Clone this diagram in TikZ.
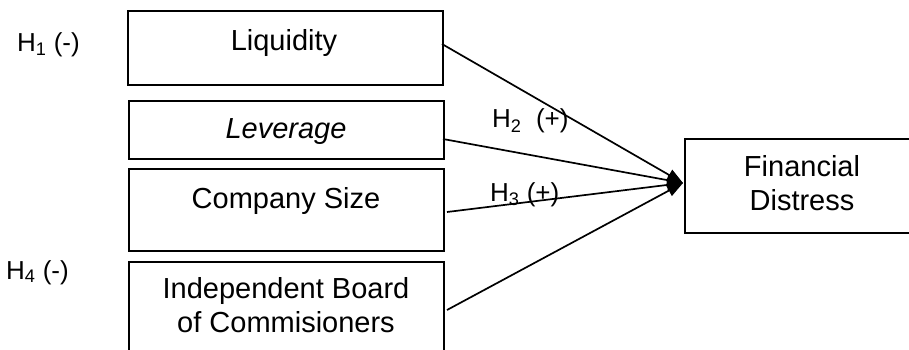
\documentclass[tikz,border=0pt]{standalone}
\usepackage{fontspec}
\setmainfont{Liberation Sans}
\usetikzlibrary{arrows.meta}
\begin{document}
\begin{tikzpicture}[x=1pt,y=-1pt,
  font=\fontsize{26}{33}\selectfont,
  varbox/.style={draw, line width=1.8pt, inner sep=0pt, anchor=north west, minimum width=315pt},
  lbl/.style={anchor=base, inner sep=0pt, align=center, font=\fontsize{29}{34}\selectfont},
  hlbl/.style={anchor=base west, inner sep=0pt},
  link/.style={line width=1.7pt, -{Triangle[length=16pt,width=12pt]}}]
\useasboundingbox (0,0) rectangle (909,350);
\clip (0,0) rectangle (909,350);
\node[varbox, minimum height=74pt] (liq) at (127,10) {};
\node[varbox, minimum height=58pt] (lev) at (128,100) {};
\node[varbox, minimum height=82pt] (size) at (128,168) {};
\node[varbox, minimum height=120pt] (ibc) at (128,261) {};
\node[varbox, minimum height=94pt, minimum width=240pt] (fd) at (684,138) {};
\node[lbl] (tliq) at (284,51) {Liquidity};
\node[lbl] (tlev) at (286,138) {\itshape Leverage};
\node[lbl] (tsize) at (286,208) {Company Size};
\node[lbl] (tibc) at (286,332) {Independent Board\\of Commisioners};
\node[lbl] (tfd) at (802,210) {Financial\\Distress};
\node[hlbl] (h1) at (17,52) {H\textsubscript{1} (-)};
\node[hlbl] (h2) at (492,128) {H\textsubscript{2}\ \ (+)};
\node[hlbl] (h3) at (490,201) {H\textsubscript{3} (+)};
\node[hlbl] (h4) at (6,279) {H\textsubscript{4} (-)};
\coordinate (tip) at (683,183);
\coordinate (s1) at (442,44);
\coordinate (s2) at (443,139);
\coordinate (s3) at (447,212);
\coordinate (s4) at (447,310);
\draw[link] (s1) -- (tip);
\draw[link] (s2) -- (tip);
\draw[link] (s3) -- (tip);
\draw[link] (s4) -- (tip);
\end{tikzpicture}
\end{document}
